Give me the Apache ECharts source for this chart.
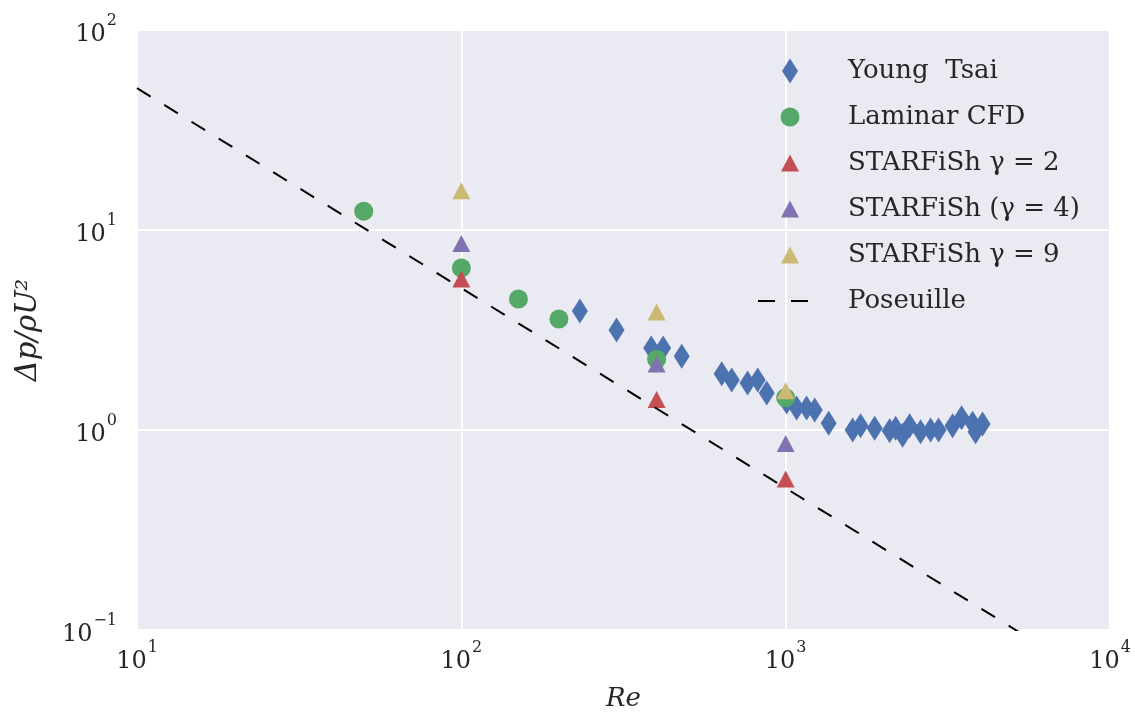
<!DOCTYPE html>
<html>
<head>
<meta charset="utf-8">
<script src="https://cdn.jsdelivr.net/npm/echarts@6/dist/echarts.min.js"></script>
<style>
html,body{margin:0;padding:0;background:#fff;}
#chart{width:1135px;height:719px;}
</style>
</head>
<body>
<div id="chart"></div>
<script>
// ---- data ----
const youngTsaiRe = [232, 301, 385, 419, 478, 635, 682, 763, 820, 874, 1007, 1081, 1160, 1229, 1357,
  1609, 1702, 1881, 2092, 2183, 2294, 2411, 2606, 2798, 2961, 3270, 3486, 3770, 3850, 4046];
const youngTsaiDp = [3.94, 3.16, 2.57, 2.57, 2.34, 1.91, 1.78, 1.72, 1.78, 1.53, 1.38, 1.29, 1.29, 1.26, 1.08,
  1.0, 1.05, 1.02, 0.99, 1.02, 0.94, 1.05, 0.98, 1.0, 1.0, 1.05, 1.15, 1.08, 0.98, 1.07];
const laminarRe = [50, 100, 150, 200, 400, 1000];
const laminarDp = [12.4, 6.46, 4.52, 3.59, 2.26, 1.45];
const gamma2Re = [100, 400, 1000];
const gamma2Dp = [5.69, 1.42, 0.569];
const gamma4Re = [100, 400, 1000];
const gamma4Dp = [8.56, 2.14, 0.855];
const gamma9Re = [100, 400, 1000];
const gamma9Dp = [15.7, 3.89, 1.57];
const poiseuilleRe = [10, 10000];
const poiseuilleDp = [51.2, 0.0512];
const xTickExponents = [1, 2, 3, 4];
const yTickExponents = [-1, 0, 1, 2];
const seriesNames = ['Young  Tsai', 'Laminar CFD', 'STARFiSh \u03B3 = 2', 'STARFiSh (\u03B3 = 4)', 'STARFiSh \u03B3 = 9', 'Poseuille'];

// ---- helpers ----
const zip = (a, b) => a.map((v, i) => [v, b[i]]);
const FONT = 'DejaVu Serif';
function powLabel(v) {
  const e = Math.round(Math.log10(v));
  return '{b|10}{s|' + (e < 0 ? '\u2212' + (-e) : e) + '}';
}
const rich = {
  b: {fontFamily: FONT, fontSize: 24, color: '#262626', lineHeight: 34, verticalAlign: 'bottom'},
  s: {fontFamily: FONT, fontSize: 16, color: '#262626', lineHeight: 34, verticalAlign: 'top', padding: [0, 0, 0, 1]}
};
// legend icons, each within a 88x26 box
const BOX = 'M0,0 M88,26 ';
const icons = [
  'path://' + BOX + 'M35,0.5 L43,13 L35,25.5 L27,13 Z',
  'path://' + BOX + 'M25.5,13 A9.5,9.5 0 1,0 44.5,13 A9.5,9.5 0 1,0 25.5,13 Z',
  'path://' + BOX + 'M35,4.5 L44,21.5 L26,21.5 Z',
  'path://' + BOX + 'M35,4.5 L44,21.5 L26,21.5 Z',
  'path://' + BOX + 'M35,4.5 L44,21.5 L26,21.5 Z',
  'path://' + BOX + 'M3,12 L20,12 L20,14 L3,14 Z M36,12 L53,12 L53,14 L36,14 Z'
];
const colors = ['#4C72B0', '#55A868', '#C44E52', '#8172B2', '#CCB974', '#000000'];

const chart = echarts.init(document.getElementById('chart'), null, {renderer: 'canvas'});
chart.setOption({
  animation: false,
  backgroundColor: '#ffffff',
  grid: {left: 137, right: 25, top: 30, bottom: 89, show: true, backgroundColor: '#EAEAF2', borderWidth: 0},
  xAxis: {
    type: 'log', logBase: 10, min: Math.pow(10, xTickExponents[0]), max: Math.pow(10, xTickExponents[xTickExponents.length - 1]),
    axisLine: {show: false}, axisTick: {show: false},
    splitLine: {show: true, lineStyle: {color: '#ffffff', width: 2}},
    minorSplitLine: {show: false},
    axisLabel: {formatter: powLabel, rich: rich, margin: 10, fontFamily: FONT, fontSize: 24},
    name: 'Re', nameLocation: 'middle', nameGap: 56,
    nameTextStyle: {fontFamily: FONT, fontStyle: 'italic', fontSize: 26, color: '#262626'}
  },
  yAxis: {
    type: 'log', logBase: 10, min: Math.pow(10, yTickExponents[0]), max: Math.pow(10, yTickExponents[yTickExponents.length - 1]),
    axisLine: {show: false}, axisTick: {show: false},
    splitLine: {show: true, lineStyle: {color: '#ffffff', width: 2}},
    axisLabel: {formatter: powLabel, rich: rich, margin: 20, fontFamily: FONT, fontSize: 24},
    name: '\u0394p/\u03C1U\u00B2', nameLocation: 'middle', nameGap: 94, nameRotate: 90,
    nameTextStyle: {fontFamily: FONT, fontStyle: 'italic', fontSize: 29, color: '#262626'}
  },
  legend: {
    left: 750, top: 53, orient: 'vertical',
    itemWidth: 88, itemHeight: 26, itemGap: 20,
    symbolKeepAspect: true,
    textStyle: {fontFamily: FONT, fontSize: 26, color: '#262626', lineHeight: 26},
    data: seriesNames.map((n, i) => ({name: n, icon: icons[i], itemStyle: {color: colors[i], borderWidth: 0}}))
  },
  series: [
    {name: seriesNames[0], type: 'scatter', symbol: 'diamond', symbolSize: [16, 25], data: zip(youngTsaiRe, youngTsaiDp), itemStyle: {color: colors[0], opacity: 1}, z: 2},
    {name: seriesNames[1], type: 'scatter', symbol: 'circle', symbolSize: 19, data: zip(laminarRe, laminarDp), itemStyle: {color: colors[1], opacity: 1}, z: 3},
    {name: seriesNames[2], type: 'scatter', symbol: 'triangle', symbolSize: [18, 17], data: zip(gamma2Re, gamma2Dp), itemStyle: {color: colors[2], opacity: 1}, z: 4},
    {name: seriesNames[3], type: 'scatter', symbol: 'triangle', symbolSize: [18, 17], data: zip(gamma4Re, gamma4Dp), itemStyle: {color: colors[3], opacity: 1}, z: 5},
    {name: seriesNames[4], type: 'scatter', symbol: 'triangle', symbolSize: [18, 17], data: zip(gamma9Re, gamma9Dp), itemStyle: {color: colors[4], opacity: 1}, z: 6},
    {name: seriesNames[5], type: 'line', symbol: 'none', clip: true, data: zip(poiseuilleRe, poiseuilleDp),
      lineStyle: {color: '#000000', width: 2, type: [16, 16]}, itemStyle: {color: '#000000'}, z: 7}
  ]
});
</script>
</body>
</html>
